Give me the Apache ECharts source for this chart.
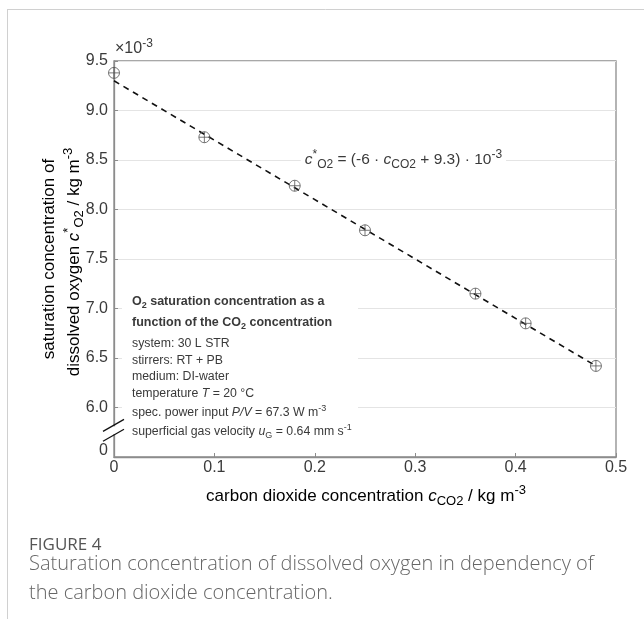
<!DOCTYPE html>
<html>
<head>
<meta charset="utf-8">
<script src="https://cdn.jsdelivr.net/npm/echarts@6/dist/echarts.min.js"></script>
<style>
html,body{margin:0;padding:0;background:#fff;}
#main{width:644px;height:619px;}
</style>
</head>
<body>
<div id="main"></div>
<script>
// ---- data ----
const co2Conc = [0, 0.09, 0.18, 0.25, 0.36, 0.41, 0.48];          // kg m^-3
const o2Sat   = [9.38, 8.73, 8.24, 7.79, 7.15, 6.85, 6.42];       // x10^-3 kg m^-3
const fitX    = [0, 0.48];
const fitY    = [9.3, 6.42];
const xTicks  = ['0', '0.1', '0.2', '0.3', '0.4', '0.5'];
const yTicks  = ['0', '6.0', '6.5', '7.0', '7.5', '8.0', '8.5', '9.0', '9.5'];

const FONT = '"Liberation Sans", Arial, sans-serif';
const TXT = '#3a3a3a';

const chart = echarts.init(document.getElementById('main'), null, {renderer: 'canvas'});

const pointSym = 'path://M0,-10 A10,10 0 1,1 0,10 A10,10 0 1,1 0,-10 Z M-10,0 L10,0 M0,-10 L0,10';

const option = {
  animation: false,
  backgroundColor: '#fff',
  grid: {left: 114, right: 28, top: 61, bottom: 162, show: true, borderColor: '#8c8c8c', borderWidth: 1.3, backgroundColor: 'transparent'},
  xAxis: {
    type: 'value', min: 0, max: 0.5, interval: 0.1,
    axisLine: {show: true, lineStyle: {color: '#8c8c8c', width: 1.3}},
    axisTick: {show: true, inside: true, length: 4, lineStyle: {color: '#8c8c8c'}},
    splitLine: {show: false},
    axisLabel: {color: TXT, fontFamily: FONT, fontSize: 16, margin: 3,
      formatter: function (v) { return xTicks[Math.round(v * 10)]; }}
  },
  yAxis: {
    type: 'value', min: 5.5, max: 9.5, interval: 0.5,
    axisLine: {show: true, lineStyle: {color: '#8c8c8c', width: 1.3}},
    axisTick: {show: true, inside: true, length: 4, lineStyle: {color: '#8c8c8c'}},
    splitLine: {show: true, lineStyle: {color: '#e4e4e4', width: 1}},
    axisLabel: {color: TXT, fontFamily: FONT, fontSize: 16, margin: 6,
      rich: {z: {fontFamily: FONT, fontSize: 16, color: TXT, padding: [0, 0, 13, 0]}},
      formatter: function (v) {
        const t = yTicks[Math.round((v - 5.5) * 2)];
        return v < 5.6 ? '{z|' + t + '}' : t;
      }}
  },
  series: [
    {
      type: 'line', name: 'fit', data: fitX.map((x, i) => [x, fitY[i]]),
      symbol: 'none', lineStyle: {color: '#111', width: 1.6, type: [6, 5]}, z: 3, silent: true
    },
    {
      type: 'scatter', name: 'measured', data: co2Conc.map((x, i) => [x, o2Sat[i]]),
      symbol: pointSym, symbolSize: 11,
      itemStyle: {color: 'rgba(0,0,0,0)', borderColor: '#555', borderWidth: 1}, z: 4
    }
  ]
};
chart.setOption(option);

// ---- annotations ----
function richText(x, y, text, rich, extra) {
  return {
    type: 'text', x: x, y: y, silent: true, z: 100,
    style: Object.assign({text: text, rich: rich, fill: TXT, fontFamily: FONT, align: 'left', verticalAlign: 'middle'}, extra || {})
  };
}

const p = (x, y) => chart.convertToPixel({gridIndex: 0}, [x, y]);
const axisX = p(0, 6)[0];
const brk1 = p(0, 5.82)[1];
const brk2 = p(0, 5.72)[1];

const boxRich = {
  b: {fontSize: 12.5, fontWeight: 'bold', fontFamily: FONT, color: '#222'},
  bs: {fontSize: 9, fontWeight: 'bold', padding: [8, 0, 0, 0], fontFamily: FONT, color: '#222'},
  n: {fontSize: 12.3, fontFamily: FONT, color: TXT},
  i: {fontSize: 12.3, fontStyle: 'italic', fontFamily: FONT, color: TXT},
  s: {fontSize: 9, padding: [8, 0, 0, 0], fontFamily: FONT, color: TXT},
  u: {fontSize: 9, padding: [0, 0, 8, 0], fontFamily: FONT, color: TXT}
};

const eqRich = {
  n: {fontSize: 15.5, fontFamily: FONT, color: TXT},
  i: {fontSize: 15.5, fontStyle: 'italic', fontFamily: FONT, color: TXT},
  s: {fontSize: 12, padding: [10, 0, 0, 0], fontFamily: FONT, color: TXT},
  u: {fontSize: 12, padding: [0, 0, 10, 0], fontFamily: FONT, color: TXT}
};

const nameRich = {
  n: {fontSize: 17, fontFamily: FONT, color: TXT},
  i: {fontSize: 17, fontStyle: 'italic', fontFamily: FONT, color: TXT},
  s: {fontSize: 13, padding: [11, 0, 0, 0], fontFamily: FONT, color: TXT},
  u: {fontSize: 13, padding: [0, 0, 11, 0], fontFamily: FONT, color: TXT}
};

const eqPos = p(0.19, 8.5);

chart.setOption({
  graphic: [
    // page frame
    {type: 'line', shape: {x1: 7, y1: 9.5, x2: 644, y2: 9.5}, style: {stroke: '#d0d0d0', lineWidth: 1}, silent: true},
    {type: 'line', shape: {x1: 7.5, y1: 9, x2: 7.5, y2: 619}, style: {stroke: '#d0d0d0', lineWidth: 1}, silent: true},
    // exponent
    richText(115, 49, '{n|×10}{u|-3}', {n: {fontSize: 16, fontFamily: FONT, color: TXT}, u: {fontSize: 12, padding: [0, 0, 10, 0], fontFamily: FONT, color: TXT}}),
    // equation with white background
    richText(eqPos[0] - 4, eqPos[1], '{i|c}{u|*}{s|O2}{n| = (-6 · }{i|c}{s|CO2}{n| + 9.3) · 10}{u|-3}', eqRich,
      {backgroundColor: '#fff', padding: [2, 4, 2, 4]}),
    // info box background
    {type: 'rect', shape: {x: 122, y: 288, width: 236, height: 152}, style: {fill: '#fff'}, silent: true, z: 50},
    richText(132, 302, '{b|O}{bs|2}{b| saturation concentration as a}', boxRich, {}),
    richText(132, 323, '{b|function of the CO}{bs|2}{b| concentration}', boxRich, {}),
    richText(132, 344, '{n|system: 30 L STR}', boxRich, {}),
    richText(132, 361, '{n|stirrers: RT + PB}', boxRich, {}),
    richText(132, 377, '{n|medium: DI-water}', boxRich, {}),
    richText(132, 394, '{n|temperature }{i|T}{n| = 20 °C}', boxRich, {}),
    richText(132, 413, '{n|spec. power input }{i|P/V}{n| = 67.3 W m}{u|-3}', boxRich, {}),
    richText(132, 432, '{n|superficial gas velocity }{i|u}{s|G}{n| = 0.64 mm s}{u|-1}', boxRich, {}),
    // axis break
    {type: 'rect', shape: {x: axisX - 2, y: brk1 + 1, width: 4, height: brk2 - brk1 - 2}, style: {fill: '#fff'}, silent: true, z: 60},
    {type: 'line', shape: {x1: axisX - 11, y1: brk1 + 6, x2: axisX + 10, y2: brk1 - 6}, style: {stroke: '#111', lineWidth: 1.3}, silent: true, z: 61},
    {type: 'line', shape: {x1: axisX - 11, y1: brk2 + 6, x2: axisX + 10, y2: brk2 - 6}, style: {stroke: '#111', lineWidth: 1.3}, silent: true, z: 61},
    // y axis name (two lines, rotated)
    {type: 'text', x: 49, y: 259, rotation: Math.PI / 2, silent: true,
      style: {text: '{n|saturation concentration of}', rich: nameRich, align: 'center', verticalAlign: 'middle'}},
    {type: 'text', x: 74, y: 262, rotation: Math.PI / 2, silent: true,
      style: {text: '{n|dissolved oxygen }{i|c}{u|*}{s|O2}{n| / kg m}{u|-3}', rich: nameRich, align: 'center', verticalAlign: 'middle'}},
    // x axis name
    {type: 'text', x: 366, y: 496, silent: true,
      style: {text: '{n|carbon dioxide concentration }{i|c}{s|CO2}{n| / kg m}{u|-3}', rich: nameRich, align: 'center', verticalAlign: 'middle'}},
    // caption
    {type: 'text', x: 29, y: 545, silent: true,
      style: {text: 'FIGURE 4', fill: '#555', fontFamily: '"Open Sans", sans-serif', fontSize: 17, align: 'left', verticalAlign: 'middle'}},
    {type: 'text', x: 29, y: 564, silent: true,
      style: {text: 'Saturation concentration of dissolved oxygen in dependency of', fill: '#666', fontFamily: '"Open Sans", sans-serif', fontWeight: 300, fontSize: 20, align: 'left', verticalAlign: 'middle'}},
    {type: 'text', x: 29, y: 593, silent: true,
      style: {text: 'the carbon dioxide concentration.', fill: '#666', fontFamily: '"Open Sans", sans-serif', fontWeight: 300, fontSize: 20, align: 'left', verticalAlign: 'middle'}}
  ]
});
</script>
</body>
</html>
